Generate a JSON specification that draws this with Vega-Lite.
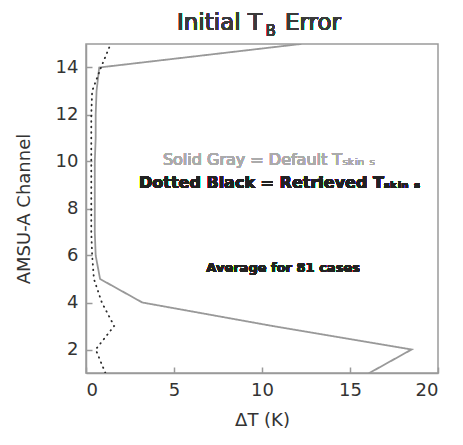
{
  "$schema": "https://vega.github.io/schema/vega-lite/v6.json",
  "width": 352,
  "height": 329,
  "autosize": {"type": "none"},
  "padding": {"left": 86, "top": 44, "right": 25, "bottom": 72},
  "background": "white",
  "config": {
    "font": "DejaVu Sans",
    "view": {"stroke": "#9a9a9a", "strokeWidth": 1.5},
    "axis": {
      "grid": false,
      "domainColor": "#9a9a9a",
      "domainWidth": 1.5,
      "tickColor": "#9a9a9a",
      "tickSize": -6,
      "tickWidth": 1.5,
      "labelFont": "DejaVu Sans",
      "labelFontSize": 18,
      "labelColor": "#333333",
      "titleFont": "DejaVu Sans",
      "titleFontSize": 18,
      "titleFontWeight": "normal",
      "titleColor": "#333333"
    }
  },
  "datasets": {
    "profiles": [
      {"series": "Default", "channel": 1, "dT": 16.1},
      {"series": "Default", "channel": 2, "dT": 18.5},
      {"series": "Default", "channel": 3, "dT": 10.6},
      {"series": "Default", "channel": 4, "dT": 3.2},
      {"series": "Default", "channel": 5, "dT": 0.8},
      {"series": "Default", "channel": 6, "dT": 0.55},
      {"series": "Default", "channel": 7, "dT": 0.5},
      {"series": "Default", "channel": 8, "dT": 0.5},
      {"series": "Default", "channel": 9, "dT": 0.5},
      {"series": "Default", "channel": 10, "dT": 0.5},
      {"series": "Default", "channel": 11, "dT": 0.55},
      {"series": "Default", "channel": 12, "dT": 0.55},
      {"series": "Default", "channel": 13, "dT": 0.6},
      {"series": "Default", "channel": 14, "dT": 0.75},
      {"series": "Default", "channel": 15, "dT": 12.2},
      {"series": "Retrieved", "channel": 1, "dT": 1.1},
      {"series": "Retrieved", "channel": 2, "dT": 0.55},
      {"series": "Retrieved", "channel": 3, "dT": 1.6},
      {"series": "Retrieved", "channel": 4, "dT": 0.9},
      {"series": "Retrieved", "channel": 5, "dT": 0.45},
      {"series": "Retrieved", "channel": 6, "dT": 0.35},
      {"series": "Retrieved", "channel": 7, "dT": 0.3},
      {"series": "Retrieved", "channel": 8, "dT": 0.3},
      {"series": "Retrieved", "channel": 9, "dT": 0.3},
      {"series": "Retrieved", "channel": 10, "dT": 0.3},
      {"series": "Retrieved", "channel": 11, "dT": 0.3},
      {"series": "Retrieved", "channel": 12, "dT": 0.3},
      {"series": "Retrieved", "channel": 13, "dT": 0.35},
      {"series": "Retrieved", "channel": 14, "dT": 0.85},
      {"series": "Retrieved", "channel": 15, "dT": 1.4}
    ]
  },
  "data": {"name": "profiles"},
  "layer": [
    {
      "mark": {"type": "line", "strokeWidth": 1.8, "strokeCap": "round", "clip": true},
      "encoding": {
        "x": {
          "field": "dT", "type": "quantitative",
          "scale": {"domain": [0, 20], "nice": false},
          "axis": {"values": [0, 5, 10, 15, 20], "title": "ΔT (K)", "labelPadding": 14, "titlePadding": 12}
        },
        "y": {
          "field": "channel", "type": "quantitative",
          "scale": {"domain": [1, 15], "nice": false, "zero": false},
          "axis": {"values": [2, 4, 6, 8, 10, 12, 14], "title": "AMSU-A Channel", "labelPadding": 14, "titlePadding": 22}
        },
        "order": {"field": "channel"},
        "color": {
          "field": "series", "type": "nominal",
          "scale": {"domain": ["Default", "Retrieved"], "range": ["#999999", "#2a2a2a"]},
          "legend": null
        },
        "strokeDash": {
          "field": "series", "type": "nominal",
          "scale": {"domain": ["Default", "Retrieved"], "range": [[1, 0], [0.5, 5]]},
          "legend": null
        }
      }
    },
    {
      "mark": {"type": "text", "text": "Solid Gray = Default Tₛₖᵢₙ ₛ", "fontSize": 16, "color": "#ababab", "align": "center", "baseline": "middle"},
      "encoding": {"x": {"datum": 10.4}, "y": {"datum": 10.06}}
    },
    {
      "mark": {"type": "text", "text": "Dotted Black = Retrieved Tₛₖᵢₙ ₛ", "fontSize": 16, "fontWeight": "bold", "color": "#222222", "align": "center", "baseline": "middle"},
      "encoding": {"x": {"datum": 11.0}, "y": {"datum": 9.09}}
    },
    {
      "mark": {"type": "text", "text": "Average for 81 cases", "fontSize": 13, "fontWeight": "bold", "color": "#222222", "align": "center", "baseline": "middle"},
      "encoding": {"x": {"datum": 11.2}, "y": {"datum": 5.47}}
    },
    {
      "mark": {"type": "text", "text": "Initial T", "fontSize": 23, "color": "#3a3a3a", "align": "right", "baseline": "alphabetic"},
      "encoding": {"x": {"datum": 10.0}, "y": {"datum": 15.6}}
    },
    {
      "mark": {"type": "text", "text": "B", "fontSize": 15, "color": "#3a3a3a", "align": "left", "baseline": "alphabetic"},
      "encoding": {"x": {"datum": 10.2}, "y": {"datum": 15.34}}
    },
    {
      "mark": {"type": "text", "text": "Error", "fontSize": 23, "color": "#3a3a3a", "align": "left", "baseline": "alphabetic"},
      "encoding": {"x": {"datum": 11.3}, "y": {"datum": 15.6}}
    }
  ]
}
